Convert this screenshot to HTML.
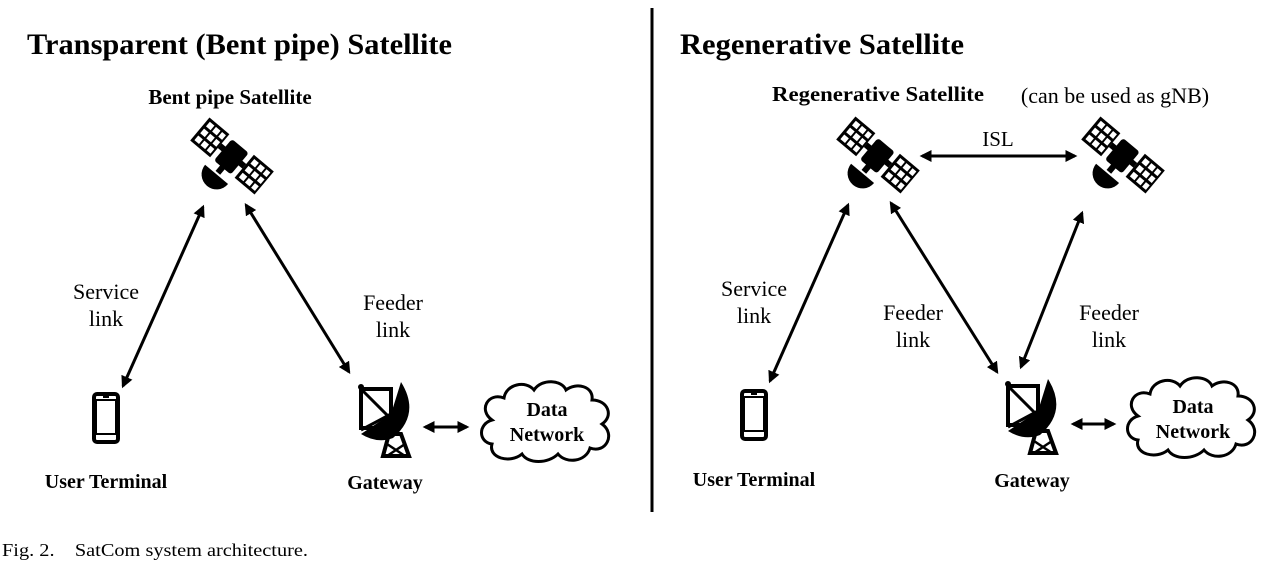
<!DOCTYPE html>
<html><head><style>
html,body{margin:0;padding:0;background:#fff;}
svg{display:block;}
text{font-family:"Liberation Serif",serif;fill:#000;}
.b{font-weight:bold;}
</style></head><body>
<svg width="1272" height="568" viewBox="0 0 1272 568">
<defs>
<marker id="a" viewBox="0 0 10 10" refX="8" refY="5" markerWidth="4" markerHeight="4" orient="auto-start-reverse"><path d="M0,0 L10,5 L0,10 z" fill="#000"/></marker>
<g id="sat">
 <g transform="rotate(40)">
  <rect x="-42" y="-15" width="26" height="30" fill="#000"/>
  <rect x="16" y="-15" width="26" height="30" fill="#000"/>
  <g fill="#fff">
   <rect x="-39" y="-12" width="6" height="6"/><rect x="-31" y="-12" width="6" height="6"/><rect x="-23" y="-12" width="5" height="6"/>
   <rect x="-39" y="-3" width="6" height="6"/><rect x="-31" y="-3" width="6" height="6"/><rect x="-23" y="-3" width="5" height="6"/>
   <rect x="-39" y="6" width="6" height="6"/><rect x="-31" y="6" width="6" height="6"/><rect x="-23" y="6" width="5" height="6"/>
   <rect x="19" y="-12" width="6" height="6"/><rect x="27" y="-12" width="6" height="6"/><rect x="35" y="-12" width="5" height="6"/>
   <rect x="19" y="-3" width="6" height="6"/><rect x="27" y="-3" width="6" height="6"/><rect x="35" y="-3" width="5" height="6"/>
   <rect x="19" y="6" width="6" height="6"/><rect x="27" y="6" width="6" height="6"/><rect x="35" y="6" width="5" height="6"/>
  </g>
  <rect x="-16" y="-3" width="32" height="6" fill="#000"/>
  <rect x="-11" y="-13" width="22" height="28" rx="3" fill="#000"/>
  <rect x="-3" y="14" width="6" height="8" fill="#000"/>
  <path d="M-15,24 L15,24 A15,15 0 0 1 -15,24 z" fill="#000"/>
 </g>
</g>
<g id="phone">
 <rect x="2" y="2" width="24" height="48" rx="3" fill="none" stroke="#000" stroke-width="4"/>
 <rect x="4" y="8" width="20" height="34" fill="none" stroke="#000" stroke-width="2"/>
 <rect x="11" y="4" width="6" height="2" fill="#000"/>
</g>
<g id="gw">
 <path d="M0,5 L30,5 L30,44 L0,44 z" fill="none" stroke="#000" stroke-width="4"/>
 <path d="M0,5 L30,35" stroke="#000" stroke-width="3"/>
 <circle cx="0" cy="3" r="3" fill="#000"/>
 <path d="M40,-2 Q60,30 32,54 Q16,60 0,50 L30,30 Z" fill="#000"/>
 <path d="M0,46 L30,30" stroke="#000" stroke-width="3"/>
 <path d="M28,50 L40,50 L48,72 L22,72 Z" fill="none" stroke="#000" stroke-width="4"/>
 <path d="M26,60 L44,72 M44,60 L26,72" stroke="#000" stroke-width="2.5"/>
</g>
<g id="cloud">
 <path d="M14,40 C0,30 10,12 26,18 C28,4 48,0 56,10 C64,-2 84,0 88,10 C98,2 116,6 114,20 C130,20 136,36 124,44 C138,54 128,74 112,68 C108,82 88,84 80,74 C70,84 50,84 44,74 C32,84 10,78 14,64 C0,62 0,44 14,40 Z" fill="#fff" stroke="#000" stroke-width="3"/>
</g>
</defs>

<line x1="652" y1="8" x2="652" y2="512" stroke="#000" stroke-width="3"/>

<!-- Left -->
<text x="27" y="54" font-size="30" class="b" textLength="425" lengthAdjust="spacingAndGlyphs">Transparent (Bent pipe) Satellite</text>
<text x="230" y="104" font-size="21" class="b" text-anchor="middle">Bent pipe Satellite</text>
<use href="#sat" x="232" y="156"/>
<g stroke="#000" stroke-width="3" marker-start="url(#a)" marker-end="url(#a)">
<line x1="203" y1="207" x2="123" y2="386"/>
<line x1="246" y1="205" x2="349" y2="372"/>
<line x1="425" y1="427" x2="467" y2="427"/>
<line x1="922" y1="156" x2="1075" y2="156"/>
<line x1="848" y1="205" x2="770" y2="381"/>
<line x1="891" y1="203" x2="997" y2="372"/>
<line x1="1082" y1="213" x2="1021" y2="367"/>
<line x1="1073" y1="424" x2="1114" y2="424"/>
</g>
<text x="106" y="299" font-size="22" text-anchor="middle">Service</text>
<text x="106" y="326" font-size="22" text-anchor="middle">link</text>
<text x="393" y="310" font-size="22" text-anchor="middle">Feeder</text>
<text x="393" y="337" font-size="22" text-anchor="middle">link</text>
<use href="#phone" x="92" y="392"/>
<text x="106" y="488" font-size="20" class="b" text-anchor="middle">User Terminal</text>
<use href="#gw" x="361" y="384"/>
<text x="385" y="489" font-size="20" class="b" text-anchor="middle">Gateway</text>
<use href="#cloud" x="478" y="380"/>
<text x="547" y="416" font-size="20" class="b" text-anchor="middle">Data</text>
<text x="547" y="441" font-size="20" class="b" text-anchor="middle">Network</text>

<!-- Right -->
<text x="680" y="54" font-size="30" class="b" textLength="284" lengthAdjust="spacingAndGlyphs">Regenerative Satellite</text>
<text x="878" y="101" font-size="21" class="b" text-anchor="middle" textLength="212" lengthAdjust="spacingAndGlyphs">Regenerative Satellite</text>
<text x="1115" y="103" font-size="22" text-anchor="middle">(can be used as gNB)</text>
<use href="#sat" x="878" y="155"/>
<use href="#sat" x="1123" y="155"/>
<text x="998" y="146" font-size="21" text-anchor="middle">ISL</text>
<text x="754" y="296" font-size="22" text-anchor="middle">Service</text>
<text x="754" y="323" font-size="22" text-anchor="middle">link</text>
<text x="913" y="320" font-size="22" text-anchor="middle">Feeder</text>
<text x="913" y="347" font-size="22" text-anchor="middle">link</text>
<text x="1109" y="320" font-size="22" text-anchor="middle">Feeder</text>
<text x="1109" y="347" font-size="22" text-anchor="middle">link</text>
<use href="#phone" x="740" y="389"/>
<text x="754" y="486" font-size="20" class="b" text-anchor="middle">User Terminal</text>
<use href="#gw" x="1008" y="381"/>
<text x="1032" y="487" font-size="20" class="b" text-anchor="middle">Gateway</text>
<use href="#cloud" x="1124" y="376"/>
<text x="1193" y="413" font-size="20" class="b" text-anchor="middle">Data</text>
<text x="1193" y="438" font-size="20" class="b" text-anchor="middle">Network</text>

<text x="2" y="556" font-size="18" xml:space="preserve" textLength="306" lengthAdjust="spacingAndGlyphs">Fig. 2.    SatCom system architecture.</text>
</svg>
</body></html>
